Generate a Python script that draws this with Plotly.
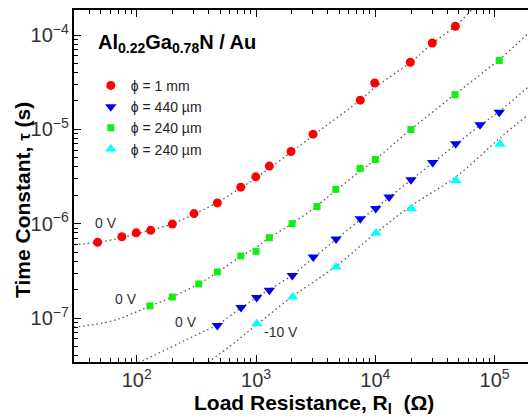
import plotly.graph_objects as go

# ---- data ----
red_R = [47, 75, 99, 131, 199, 302, 474, 745, 995, 1293, 1965, 3005, 7480, 9885, 19640, 30040, 46870]
red_tau = [6.34e-7, 7.28e-7, 8.0e-7, 8.5e-7, 9.9e-7, 1.28e-6, 1.66e-6, 2.44e-6, 3.14e-6, 4.08e-6,
           5.82e-6, 8.89e-6, 2.04e-5, 3.10e-5, 5.14e-5, 8.22e-5, 1.235e-4]

blue_R = [474, 748, 1013, 1293, 2015, 3020, 4690, 7480, 10070, 13040, 19900, 30270, 47200, 75500, 109400]
blue_tau = [8.34e-8, 1.29e-7, 1.65e-7, 1.97e-7, 2.82e-7, 4.44e-7, 6.89e-7, 1.13e-6, 1.45e-6, 1.92e-6,
            2.92e-6, 4.46e-6, 7.03e-6, 1.12e-5, 1.52e-5]

green_R = [129, 199, 331, 474, 745, 1000, 1293, 2005, 3245, 4660, 7450, 10000, 19900, 46560, 109400]
green_tau = [1.345e-7, 1.67e-7, 2.30e-7, 3.08e-7, 4.55e-7, 5.09e-7, 7.1e-7, 1.0e-6, 1.52e-6, 2.31e-6,
             3.85e-6, 4.79e-6, 9.96e-6, 2.33e-5, 5.36e-5]

cyan_R = [1013, 2030, 4690, 10140, 20040, 47500, 110900]
cyan_tau = [8.69e-8, 1.67e-7, 3.48e-7, 7.97e-7, 1.44e-6, 2.87e-6, 6.97e-6]

# fit curves
fit_red_R = [29.8, 47, 75, 100, 130, 200, 300, 475, 745, 1000, 1300, 2000, 3000, 7500, 10000, 20000, 30000, 47000, 64000]
fit_red_tau = [6.0e-7, 6.35e-7, 7.1e-7, 7.8e-7, 8.5e-7, 1.0e-6, 1.26e-6, 1.68e-6, 2.4e-6, 3.05e-6, 3.9e-6,
               5.8e-6, 8.6e-6, 2.05e-5, 2.8e-5, 5.2e-5, 8.1e-5, 1.25e-4, 1.84e-4]

fit_green_R = [29.8, 60, 88, 129, 200, 330, 475, 745, 1000, 1293, 2005, 3245, 4660, 7450, 10000, 19900, 46560, 109400, 190000]
fit_green_tau = [8.0e-8, 9.2e-8, 1.09e-7, 1.34e-7, 1.68e-7, 2.3e-7, 3.05e-7, 4.5e-7, 5.6e-7, 7.1e-7, 1.0e-6,
                 1.55e-6, 2.25e-6, 3.6e-6, 4.8e-6, 1.0e-5, 2.35e-5, 5.5e-5, 1.03e-4]

fit_blue_R = [95, 190, 298, 474, 748, 1013, 1293, 2015, 3020, 4690, 7480, 10070, 13040, 19900, 30270, 47200, 75500, 109400, 190500]
fit_blue_tau = [3.2e-8, 4.84e-8, 6.41e-8, 8.5e-8, 1.28e-7, 1.65e-7, 2.0e-7, 2.85e-7, 4.35e-7, 6.8e-7, 1.1e-6,
                1.45e-6, 1.9e-6, 2.9e-6, 4.4e-6, 6.9e-6, 1.1e-5, 1.55e-5, 2.8e-5]

fit_cyan_R = [370, 605, 1013, 2030, 4690, 10140, 20040, 47500, 110900, 190000]
fit_cyan_tau = [3.2e-8, 5.03e-8, 8.5e-8, 1.7e-7, 3.55e-7, 8.0e-7, 1.55e-6, 3.15e-6, 8.1e-6, 1.42e-5]

series_names = ["ϕ = 1 mm", "ϕ = 440 µm", "ϕ = 240 µm", "ϕ = 240 µm"]
bias_labels = ["0 V", "0 V", "0 V", "-10 V"]

FONT = "Liberation Sans, Arial, sans-serif"

fig = go.Figure()

for fx, fy in [(fit_red_R, fit_red_tau), (fit_green_R, fit_green_tau),
               (fit_blue_R, fit_blue_tau), (fit_cyan_R, fit_cyan_tau)]:
    fig.add_trace(go.Scatter(x=fx, y=fy, mode="lines", showlegend=False, hoverinfo="skip",
                             line=dict(color="#555555", width=1.3, dash="1.5px,3px", shape="spline")))

fig.add_trace(go.Scatter(x=red_R, y=red_tau, mode="markers", name=series_names[0],
                         marker=dict(symbol="circle", size=9, color="#ff0000")))
fig.add_trace(go.Scatter(x=blue_R, y=blue_tau, mode="markers", name=series_names[1],
                         marker=dict(symbol="triangle-down", size=10, color="#0000ee")))
fig.add_trace(go.Scatter(x=green_R, y=green_tau, mode="markers", name=series_names[2],
                         marker=dict(symbol="square", size=7, color="#11ee11")))
fig.add_trace(go.Scatter(x=cyan_R, y=cyan_tau, mode="markers", name=series_names[3],
                         marker=dict(symbol="triangle-up", size=10, color="#00ffff")))

xr = [1.474, 5.28]
yr = [-7.466, -3.735]

fig.update_layout(
    width=528, height=418,
    margin=dict(l=74, r=0, t=10, b=56),
    paper_bgcolor="white", plot_bgcolor="white",
    font=dict(family=FONT, color="#222"),
    xaxis=dict(type="log", range=xr, dtick=1, exponentformat="power", showexponent="all",
               showgrid=False, zeroline=False, showline=True, linecolor="black", linewidth=2,
               mirror="ticks", ticks="inside", ticklen=7, tickwidth=1.2, tickcolor="black",
               tickfont=dict(size=16, color="#333"),
               minor=dict(ticks="inside", ticklen=4, tickcolor="black", dtick="D1", showgrid=False)),
    yaxis=dict(type="log", range=yr, dtick=1, exponentformat="power", showexponent="all",
               showgrid=False, zeroline=False, showline=True, linecolor="black", linewidth=2,
               ticks="inside", ticklen=7, tickwidth=1.2, tickcolor="black",
               tickfont=dict(size=16, color="#333"),
               minor=dict(ticks="inside", ticklen=4, tickcolor="black", dtick="D1", showgrid=False)),
    yaxis2=dict(type="log", range=yr, dtick=1, overlaying="y", side="right", showticklabels=False,
                showgrid=False, zeroline=False, showline=False, ticks="inside", ticklen=4,
                tickcolor="black"),
    legend=dict(x=0.037, y=0.83, xanchor="left", yanchor="top", bgcolor="rgba(0,0,0,0)",
                font=dict(size=14, family=FONT, color="#222"), tracegroupgap=0),
)

# label positions for the bias annotations (log10 units)
bias_pos = [(1.743, -5.989), (1.911, -6.794), (2.414, -7.037), (3.21, -7.153)]
for (bx, by), txt in zip(bias_pos, bias_labels):
    fig.add_annotation(x=bx, y=by, xref="x", yref="y", text=txt, showarrow=False,
                       font=dict(size=14, family=FONT, color="#333"))

fig.add_annotation(x=(96 - 74) / 454, y=1 - (44 - 10) / 352, xref="paper", yref="paper",
                   xanchor="left", yanchor="middle", showarrow=False,
                   text="<b>Al<sub>0.22</sub>Ga<sub>0.78</sub>N / Au</b>",
                   font=dict(size=20, family=FONT, color="black"))

fig.add_annotation(x=(314 - 74) / 454, y=-(404 - 362) / 352, xref="paper", yref="paper",
                   xanchor="center", yanchor="middle", showarrow=False,
                   text="<b>Load Resistance, R<sub>l</sub>  (Ω)</b>",
                   font=dict(size=21, family=FONT, color="black"))

fig.add_annotation(x=-(74 - 22) / 454, y=1 - (200 - 10) / 352, xref="paper", yref="paper",
                   xanchor="center", yanchor="middle", showarrow=False, textangle=-90,
                   text="<b>Time Constant, <span style='font-size:17px'>τ</span> (s)</b>",
                   font=dict(size=21, family=FONT, color="black"))

fig.write_html("out.html")
